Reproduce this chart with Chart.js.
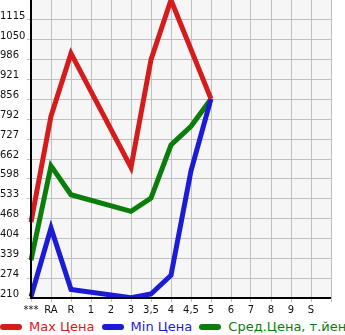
<!DOCTYPE html>
<html>
<head>
<meta charset="utf-8">
<script src="https://cdn.jsdelivr.net/npm/chart.js@4/dist/chart.umd.min.js"></script>
<style>
  html, body { margin: 0; padding: 0; background: #fff; }
  #wrap { position: relative; width: 345px; height: 335px; overflow: hidden; }
  #chartBox { position: absolute; left: 0; top: 0; width: 345px; height: 318px; }
  #legend { position: absolute; left: 0; top: 319px; white-space: nowrap;
            font: 13px "DejaVu Sans", sans-serif; }
  #legend span.item { display: inline-block; margin-right: 7px; }
  #legend span.pill { display: inline-block; width: 22px; height: 6px; border-radius: 3px;
                      vertical-align: middle; margin-right: 7px; position: relative; top: -1px; }
</style>
</head>
<body>
<div id="wrap">
  <div id="chartBox"><canvas id="priceChart"></canvas></div>
  <div id="legend"></div>
</div>
<script>
// categories along the x axis (last slot is empty, just grid room)
const grades = ['***', 'RA', 'R', '1', '2', '3', '3,5', '4', '4,5', '5', '6', '7', '8', '9', 'S', ''];

// prices per grade, thousand yen (null = no data)
const maxPrice = [457, 802, 1006, null, null, 635, 986, 1180, null, 858, null, null, null, null, null, null];
const minPrice = [214, 438, 238, null, null, 211, 223, 284, 624, 858, null, null, null, null, null, null];
const avgPrice = [333, 640, 546, null, null, 492, 535, 708, 769, 858, null, null, null, null, null, null];

// y tick labels as printed on the picture
const yTickLabels = [210, 274, 339, 404, 468, 533, 598, 662, 727, 792, 856, 921, 986, 1050, 1115];
const yTop = 1180;

const seriesInfo = [
    { label: 'Max Цена', data: maxPrice, color: '#d41c1c' },
    { label: 'Min Цена', data: minPrice, color: '#1c1cd6' },
    { label: 'Сред.Цена, т.йен', data: avgPrice, color: '#0a7d0a' }
];

// plot background + black axis lines
const plotBg = {
    id: 'plotBg',
    beforeDraw(chart) {
        const { ctx, chartArea: a } = chart;
        ctx.save();
        ctx.fillStyle = '#f6f6f6';
        ctx.fillRect(a.left, a.top, a.right - a.left, a.bottom - a.top);
        ctx.restore();
    },
    afterDatasetsDraw(chart) {
        const { ctx, chartArea: a } = chart;
        ctx.save();
        ctx.strokeStyle = '#000';
        ctx.lineWidth = 2;
        ctx.beginPath();
        ctx.moveTo(a.left, 0);
        ctx.lineTo(a.left, a.bottom);
        ctx.lineTo(a.right, a.bottom);
        ctx.stroke();
        ctx.restore();
    }
};

function buildLegend() {
    const box = document.getElementById('legend');
    box.innerHTML = seriesInfo.map(s =>
        `<span class="item" style="color:${s.color}"><span class="pill" style="background:${s.color}"></span>${s.label}</span>`
    ).join('');
}

function createPriceChart() {
    const ctx = document.getElementById('priceChart').getContext('2d');
    new Chart(ctx, {
        type: 'line',
        data: {
            labels: grades,
            datasets: seriesInfo.map(s => ({
                label: s.label,
                data: s.data,
                borderColor: s.color,
                backgroundColor: s.color,
                borderWidth: 5,
                pointRadius: 0,
                tension: 0,
                spanGaps: true
            }))
        },
        options: {
            responsive: true,
            maintainAspectRatio: false,
            animation: false,
            layout: { padding: { top: 0, right: 14, left: 0, bottom: 0 } },
            plugins: { legend: { display: false }, tooltip: { enabled: false } },
            scales: {
                x: {
                    offset: false,
                    grid: { color: '#c0c0c0', lineWidth: 1, tickLength: 4 },
                    border: { display: false },
                    ticks: {
                        autoSkip: false, maxRotation: 0, padding: 2,
                        color: '#111', font: { family: 'DejaVu Sans', size: 10 }
                    }
                },
                y: {
                    min: yTickLabels[0],
                    max: yTop,
                    afterBuildTicks: scale => {
                        scale.ticks = yTickLabels.concat([yTop]).map(v => ({ value: v }));
                    },
                    afterFit: scale => {
                        scale.width = 31;
                        scale.paddingTop = 0; // top edge of the plot hugs the canvas
                    },
                    grid: { color: '#c0c0c0', lineWidth: 1, tickLength: 4 },
                    border: { display: false },
                    ticks: {
                        crossAlign: 'far',
                        labelOffset: -4,
                        padding: 2,
                        color: '#111',
                        font: { family: 'DejaVu Sans', size: 10 },
                        callback: v => (v === yTop ? null : String(v))
                    }
                }
            }
        },
        plugins: [plotBg]
    });
}

buildLegend();
createPriceChart();
</script>
</body>
</html>
